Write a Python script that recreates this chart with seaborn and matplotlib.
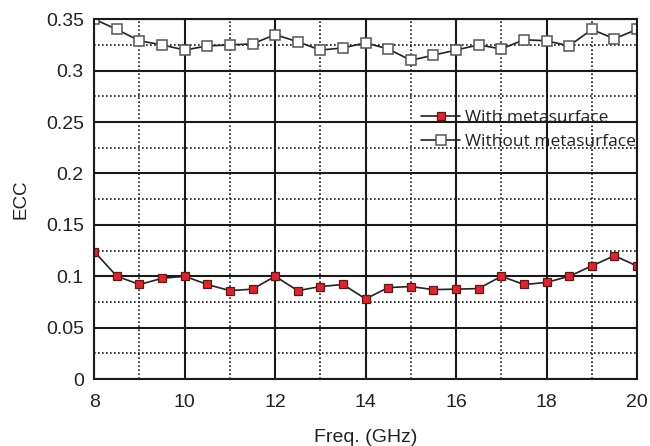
import numpy as np
import pandas as pd
import seaborn as sns
import matplotlib.pyplot as plt
from matplotlib.ticker import MultipleLocator

# frequency sweep (GHz)
freq = [8, 8.5, 9, 9.5, 10, 10.5, 11, 11.5, 12, 12.5, 13, 13.5, 14,
        14.5, 15, 15.5, 16, 16.5, 17, 17.5, 18, 18.5, 19, 19.5, 20]

# ECC with metasurface
ecc_with = [0.124, 0.100, 0.092, 0.098, 0.100, 0.092, 0.086, 0.0875, 0.100,
            0.086, 0.090, 0.092, 0.078, 0.089, 0.090, 0.087, 0.0875, 0.088,
            0.100, 0.092, 0.094, 0.100, 0.110, 0.120, 0.110]

# ECC without metasurface
ecc_without = [0.350, 0.340, 0.329, 0.325, 0.320, 0.324, 0.325, 0.326, 0.335,
               0.328, 0.320, 0.322, 0.327, 0.321, 0.310, 0.315, 0.320, 0.325,
               0.321, 0.330, 0.329, 0.324, 0.340, 0.331, 0.340]

labels = ["With metasurface", "Without metasurface"]

df = pd.DataFrame({
    "freq": freq * 2,
    "ecc": ecc_with + ecc_without,
    "case": [labels[0]] * len(freq) + [labels[1]] * len(freq),
})

sns.set_style("white")
plt.rcParams['font.family'] = ['Liberation Sans', 'DejaVu Sans']

fig, ax = plt.subplots(figsize=(6.5, 4.46), dpi=100)
fig.subplots_adjust(left=0.145, right=0.98, top=0.957, bottom=0.15)

# grid first so the lines sit on top
ax.set_axisbelow(True)
ax.xaxis.set_major_locator(MultipleLocator(2))
ax.xaxis.set_minor_locator(MultipleLocator(1))
ax.yaxis.set_major_locator(MultipleLocator(0.05))
ax.yaxis.set_minor_locator(MultipleLocator(0.025))
ax.grid(which="major", color="#1a1a1a", linewidth=1.5, linestyle="-")
ax.grid(which="minor", color="#1a1a1a", linewidth=1.2, linestyle=(0, (1, 1.4)))

sns.lineplot(data=df, x="freq", y="ecc", hue="case", style="case",
             palette={labels[0]: "#222222", labels[1]: "#222222"},
             markers={labels[0]: "s", labels[1]: "s"},
             dashes=False, linewidth=1.2, markersize=5.5, ax=ax, legend=False)

# recolour markers
lines = ax.get_lines()
lines[0].set_markerfacecolor("#e8202a")
lines[0].set_markeredgecolor("#5a1a1a")
lines[0].set_markeredgewidth(0.9)
lines[1].set_markerfacecolor("white")
lines[1].set_markeredgecolor("#555555")
lines[1].set_markeredgewidth(1.1)
lines[1].set_markersize(6.5)

ax.set_xlim(8, 20)
ax.set_ylim(0, 0.35)
ax.set_yticks([0, 0.05, 0.1, 0.15, 0.2, 0.25, 0.3, 0.35])
ax.set_yticklabels(["0", "0.05", "0.1", "0.15", "0.2", "0.25", "0.3", "0.35"])
ax.tick_params(which="both", length=0, labelsize=14, colors="#222222")
ax.tick_params(axis="x", pad=10.5)
ax.tick_params(axis="y", pad=7.5)
ax.set_xlabel("Freq. (GHz)", fontsize=14, color="#222222", labelpad=13)
ax.set_ylabel("ECC", fontsize=13.5, color="#222222", labelpad=12)

for s in ax.spines.values():
    s.set_color("#1a1a1a")
    s.set_linewidth(1.5)

leg = ax.legend(lines, labels, loc="upper left", bbox_to_anchor=(0.59, 0.768),
                frameon=False, handlelength=2.2, handletextpad=0.3,
                labelspacing=0.45, borderaxespad=0,
                prop={"family": ["Open Sans", "DejaVu Sans"], "size": 12.5})
for t in leg.get_texts():
    t.set_color("#222222")

fig.savefig("out.png", dpi=100)
